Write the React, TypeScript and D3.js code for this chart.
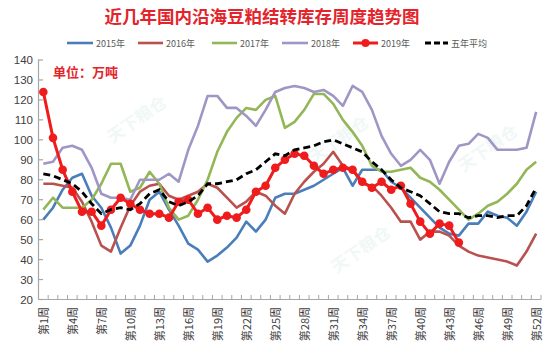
import React from "react";
import * as d3 from "d3";

const weeks = d3.range(1, 53);
const tickWeeks = [1, 4, 7, 10, 13, 16, 19, 22, 25, 28, 31, 34, 37, 40, 43, 46, 49, 52];
const yTicks = [20, 30, 40, 50, 60, 70, 80, 90, 100, 110, 120, 130, 140];

const s2015 = [60, 66, 75, 81, 83, 72, 66, 56, 43, 47, 57, 70, 74, 65, 57, 48, 45, 39, 42, 46, 51, 59, 54, 60, 71, 73, 73, 75, 77, 80, 83, 86, 77, 85, 85, 85, 79, 76, 71, 66, 61, 56, 53, 52, 58, 58, 64, 62, 61, 57, 64, 74];
const s2016 = [78, 78, 77, 76, 69, 59, 47, 44, 56, 67, 74, 77, 78, 72, 70, 72, 74, 78, 76, 71, 66, 69, 74, 72, 67, 63, 73, 79, 84, 88, 94, 87, 85, 78, 77, 72, 66, 59, 59, 50, 54, 54, 52, 47, 44, 42, 41, 40, 39, 37, 44, 53];
const s2017 = [65, 71, 66, 66, 66, 70, 78, 88, 88, 74, 76, 84, 78, 66, 60, 62, 70, 80, 94, 104, 111, 116, 115, 120, 122, 106, 109, 115, 123, 123, 118, 110, 104, 97, 87, 84, 84, 85, 86, 81, 79, 75, 70, 65, 60, 63, 67, 69, 73, 78, 85, 89];
const s2018 = [88, 89, 96, 97, 95, 86, 73, 71, 71, 70, 80, 80, 80, 83, 79, 95, 107, 122, 122, 116, 116, 112, 107, 115, 124, 126, 127, 126, 124, 125, 122, 117, 127, 124, 115, 102, 93, 87, 90, 95, 90, 78, 89, 97, 98, 103, 101, 95, 95, 95, 96, 114];
const s2019 = [124, 101, 85, 74, 64, 64, 57, 65, 71, 68, 65, 63, 63, 61, 69, 70, 63, 66, 60, 62, 61, 65, 74, 77, 86, 90, 93, 92, 87, 83, 85, 86, 85, 79, 76, 79, 75, 77, 68, 59, 53, 58, 57, 48.5];
const sAvg = [83, 82, 80, 78, 74, 68, 63, 65, 66, 65, 68, 73, 75, 69, 67, 69, 72, 78, 78, 79, 80, 83, 85, 89, 93, 92, 95, 96, 97, 99, 100, 98, 96, 94, 89, 85, 80, 76, 74, 72, 68, 64, 63, 63, 61, 62, 62, 61, 62, 62, 67, 76];

const seriesNames = ["2015年", "2016年", "2017年", "2018年", "2019年", "五年平均"];
const title = "近几年国内沿海豆粕结转库存周度趋势图";
const unitLabel = "单位：万吨";

const C15 = "#4a7ebb";
const C16 = "#b9514e";
const C17 = "#93b757";
const C18 = "#a096c6";
const C19 = "#ee1c1c";
const CAVG = "#000000";

export default function App() {
  const W = 550, H = 352;
  const x = d3.scaleBand<number>().domain(weeks).range([38.5, 541]).padding(0);
  const y = d3.scaleLinear().domain([20, 140]).range([299.5, 60]);
  const cx = (w: number) => (x(w) as number) + x.bandwidth() / 2;
  const line = d3.line<number>().x((_, i) => cx(i + 1)).y((d) => y(d));

  const series = [
    { data: s2015, color: C15, width: 2.6 },
    { data: s2016, color: C16, width: 2.6 },
    { data: s2017, color: C17, width: 2.6 },
    { data: s2018, color: C18, width: 2.6 },
  ];

  const legendItems = [
    { name: seriesNames[0], x0: 67, x1: 93, color: C15, type: "line" },
    { name: seriesNames[1], x0: 138, x1: 163, color: C16, type: "line" },
    { name: seriesNames[2], x0: 212, x1: 237, color: C17, type: "line" },
    { name: seriesNames[3], x0: 282, x1: 308, color: C18, type: "line" },
    { name: seriesNames[4], x0: 353, x1: 378, color: C19, type: "marker" },
    { name: seriesNames[5], x0: 425, x1: 448, color: CAVG, type: "dash" },
  ];

  const watermarks = [
    [136, 118],
    [338, 138],
    [487, 147],
    [360, 248],
  ];

  return (
    <svg
      width={W}
      height={H}
      style={{ position: "absolute", left: 0, top: 0, background: "#fff" }}
      fontFamily="'Liberation Sans', Arial, sans-serif"
    >
      <rect width={W} height={H} fill="#fff" />
      {watermarks.map(([wx, wy], i) => (
        <text
          key={i}
          x={wx}
          y={wy}
          transform={`rotate(-35 ${wx} ${wy})`}
          textAnchor="middle"
          dominantBaseline="central"
          fontSize={17}
          fontWeight="bold"
          fontFamily="'Noto Sans CJK SC', sans-serif"
          fill="#d6ecea"
          opacity={0.35}
        >
          天下粮仓
        </text>
      ))}
      <text
        x={262}
        y={15}
        textAnchor="middle"
        dominantBaseline="central"
        fontSize={17.5}
        fontWeight="bold"
        fill="#e3242b"
        fontFamily="'Noto Sans CJK SC', serif"
      >
        {title}
      </text>
      {legendItems.map((it, i) => (
        <g key={i}>
          {it.type === "dash" ? (
            <line x1={it.x0} x2={it.x1} y1={43} y2={43} stroke={it.color} strokeWidth={3} strokeDasharray="6,3" />
          ) : (
            <line x1={it.x0} x2={it.x1} y1={43} y2={43} stroke={it.color} strokeWidth={it.type === "marker" ? 3 : 2.6} />
          )}
          {it.type === "marker" && <circle cx={(it.x0 + it.x1) / 2} cy={43} r={4} fill={it.color} />}
          <text
            x={it.x1 + 3}
            y={43}
            dominantBaseline="central"
            fontSize={9}
            fill="#595959"
            fontFamily="'Noto Sans CJK SC', sans-serif"
          >
            {it.name}
          </text>
        </g>
      ))}
      <text
        x={53}
        y={71}
        dominantBaseline="central"
        fontSize={13}
        fontWeight="bold"
        fill="#e3242b"
        fontFamily="'Noto Sans CJK SC', sans-serif"
      >
        {unitLabel}
      </text>
      {/* y axis */}
      <line x1={38.5} x2={38.5} y1={59.5} y2={299.5} stroke="#a6a6a6" strokeWidth={1.2} />
      {yTicks.map((t) => (
        <g key={t}>
          <line x1={38.5} x2={43} y1={y(t)} y2={y(t)} stroke="#a6a6a6" strokeWidth={1.2} />
          <text x={33} y={y(t)} textAnchor="end" dominantBaseline="central" fontSize={11.5} fill="#404040">
            {t}
          </text>
        </g>
      ))}
      {/* x axis */}
      <line x1={38.5} x2={541} y1={299.5} y2={299.5} stroke="#a6a6a6" strokeWidth={1.2} />
      {weeks.concat([53]).map((w) => {
        const xx = w <= 52 ? (x(w) as number) : 541;
        return <line key={w} x1={xx} x2={xx} y1={299.5} y2={295} stroke="#a6a6a6" strokeWidth={1} />;
      })}
      {tickWeeks.map((w) => (
        <text
          key={w}
          x={cx(w)}
          y={307}
          transform={`rotate(-90 ${cx(w)} 307)`}
          textAnchor="end"
          dominantBaseline="central"
          fontSize={11}
          fill="#404040"
          fontFamily="'Noto Sans CJK SC', sans-serif"
        >
          {`第${w}周`}
        </text>
      ))}
      {series.map((s, i) => (
        <path key={i} d={line(s.data) as string} fill="none" stroke={s.color} strokeWidth={s.width} strokeLinejoin="round" />
      ))}
      <path d={line(s2019) as string} fill="none" stroke={C19} strokeWidth={3} strokeLinejoin="round" />
      {s2019.map((v, i) => (
        <circle key={i} cx={cx(i + 1)} cy={y(v)} r={4.3} fill={C19} />
      ))}
      <path d={line(sAvg) as string} fill="none" stroke={CAVG} strokeWidth={2.8} strokeDasharray="7,4" />
    </svg>
  );
}
